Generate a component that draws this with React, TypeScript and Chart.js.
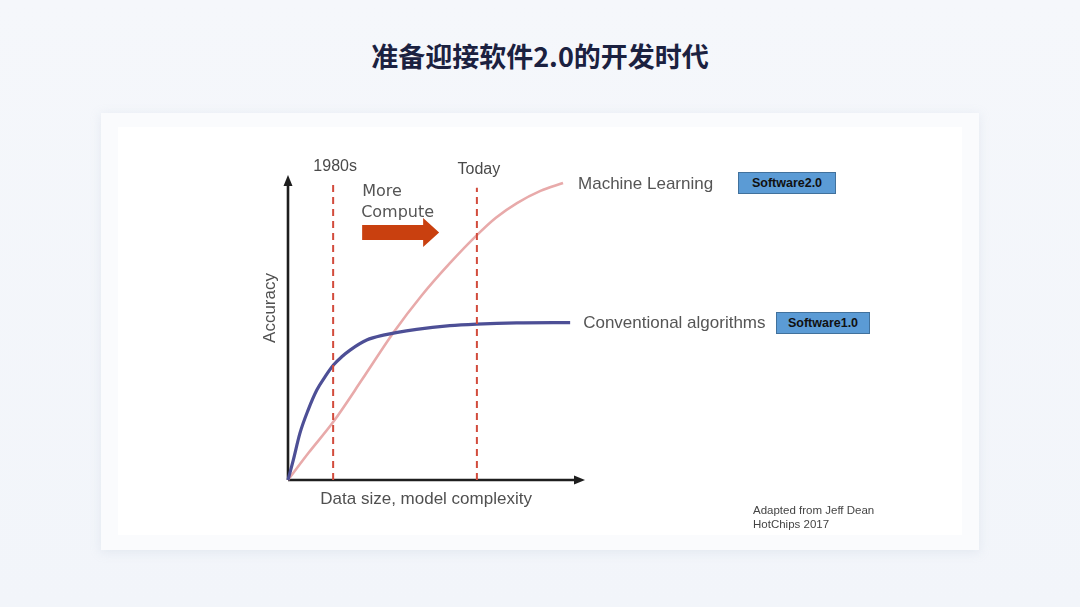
import React, { useEffect, useRef } from "react";
import { Chart, registerables } from "chart.js";

Chart.register(...registerables);

const pageTitle = "准备迎接软件2.0的开发时代";
const xAxisTitle = "Data size, model complexity";
const yAxisTitle = "Accuracy";
const seriesNames = ["Machine Learning", "Conventional algorithms"];
const badgeLabels = ["Software2.0", "Software1.0"];
const footnoteLines = ["Adapted from Jeff Dean", "HotChips 2017"];
const computeLines = ["More", "Compute"];

// Machine Learning curve (x: data size, y: accuracy, arbitrary 0-100 units)
const mlX = [0, 7, 15.2, 25, 35.4, 45, 54.5, 63.6, 70, 77.1, 85, 92.6];
const mlY = [0, 9, 19.0, 33, 48.2, 60.5, 71.1, 80.3, 86, 90.8, 94.8, 97.4];

// Conventional algorithms curve
const convX = [0, 1.8, 4.0, 6.8, 9.7, 12.5, 15.3, 18.1, 20.9, 26.5, 32.1, 43.3, 54.5, 63.5, 77.0, 95];
const convY = [0, 6.6, 15.3, 23.0, 29.5, 33.9, 37.7, 40.4, 42.6, 45.9, 47.5, 49.4, 50.6, 51.1, 51.5, 51.6];

// Era markers
const eraX = [15.2, 63.6];
const eraTop = [97.4, 95.8];
const eraLabels = ["1980s", "Today"];

const ARIAL = '"Liberation Sans", Arial, sans-serif';

const annotPlugin = {
  id: "annot",
  beforeDatasetsDraw(chart: any) {
    const { ctx, chartArea } = chart;
    const { left, right, top, bottom } = chartArea;
    ctx.save();
    ctx.strokeStyle = "#1e1e1e";
    ctx.fillStyle = "#1e1e1e";
    ctx.lineWidth = 2.6;
    ctx.beginPath();
    ctx.moveTo(left, bottom);
    ctx.lineTo(left, top + 8);
    ctx.moveTo(left, bottom);
    ctx.lineTo(right - 8, bottom);
    ctx.stroke();
    // arrowheads
    ctx.beginPath();
    ctx.moveTo(left, top);
    ctx.lineTo(left - 4.5, top + 11);
    ctx.lineTo(left + 4.5, top + 11);
    ctx.closePath();
    ctx.fill();
    ctx.beginPath();
    ctx.moveTo(right, bottom);
    ctx.lineTo(right - 11, bottom - 4.5);
    ctx.lineTo(right - 11, bottom + 4.5);
    ctx.closePath();
    ctx.fill();
    ctx.restore();
  },
  afterDraw(chart: any) {
    const { ctx, chartArea, scales } = chart;
    const xs = scales.x;
    const ys = scales.y;
    const { left, bottom } = chartArea;
    ctx.save();
    ctx.textBaseline = "middle";
    // era labels
    ctx.fillStyle = "#4a4a4a";
    ctx.font = `16px ${ARIAL}`;
    ctx.textAlign = "center";
    eraLabels.forEach((t, i) => {
      const px = xs.getPixelForValue(eraX[i]);
      const py = ys.getPixelForValue(eraTop[i]);
      ctx.fillText(t, px + 2, py - (i === 0 ? 16 : 18));
    });
    // axis titles
    ctx.fillStyle = "#505050";
    ctx.font = `17px ${ARIAL}`;
    ctx.fillText(xAxisTitle, xs.getPixelForValue(46.5), bottom + 19);
    ctx.save();
    ctx.translate(left - 18, ys.getPixelForValue(56.4));
    ctx.rotate(-Math.PI / 2);
    ctx.fillText(yAxisTitle, 0, 0);
    ctx.restore();
    // series labels
    ctx.textAlign = "left";
    ctx.font = `17px ${ARIAL}`;
    ctx.fillStyle = "#555555";
    const mlEndX = xs.getPixelForValue(mlX[mlX.length - 1]);
    const mlEndY = ys.getPixelForValue(mlY[mlY.length - 1]);
    ctx.fillText(seriesNames[0], mlEndX + 15, mlEndY + 1);
    const cvEndX = xs.getPixelForValue(convX[convX.length - 1]);
    const cvEndY = ys.getPixelForValue(convY[convY.length - 1]);
    ctx.fillText(seriesNames[1], cvEndX + 13, cvEndY + 1);
    // More Compute
    const cx = xs.getPixelForValue(eraX[0]) + 29;
    ctx.font = `16px "DejaVu Sans", Verdana, sans-serif`;
    ctx.fillStyle = "#555555";
    ctx.fillText(computeLines[0], cx, 192);
    ctx.fillText(computeLines[1], cx - 1, 213);
    // arrow
    ctx.fillStyle = "#c9400f";
    ctx.beginPath();
    ctx.moveTo(cx, 225);
    ctx.lineTo(cx + 61, 225);
    ctx.lineTo(cx + 61, 218);
    ctx.lineTo(cx + 77, 232.5);
    ctx.lineTo(cx + 61, 247);
    ctx.lineTo(cx + 61, 240);
    ctx.lineTo(cx, 240);
    ctx.closePath();
    ctx.fill();
    ctx.restore();
  },
};

export default function App() {
  const ref = useRef<HTMLCanvasElement>(null);
  useEffect(() => {
    const eraSets = eraX.map((x, i) => ({
      label: eraLabels[i],
      data: [
        { x, y: 0 },
        { x, y: eraTop[i] },
      ],
      borderColor: "#d24b3c",
      borderWidth: 2,
      borderDash: [7, 5],
      pointRadius: 0,
      order: 0,
      clip: false as any,
    }));
    const chart = new Chart(ref.current!, {
      type: "line",
      data: {
        datasets: [
          ...eraSets,
          {
            label: seriesNames[0],
            data: mlX.map((x, i) => ({ x, y: mlY[i] })),
            borderColor: "#e8aaaa",
            borderWidth: 2.6,
            pointRadius: 0,
            cubicInterpolationMode: "monotone",
            order: 2,
            clip: false as any,
          },
          {
            label: seriesNames[1],
            data: convX.map((x, i) => ({ x, y: convY[i] })),
            borderColor: "#4d4f96",
            borderWidth: 3.2,
            pointRadius: 0,
            cubicInterpolationMode: "monotone",
            order: 1,
            clip: false as any,
          },
        ],
      },
      options: {
        responsive: false,
        animation: false,
        layout: { padding: { left: 288, right: 495, top: 175, bottom: 127 } },
        scales: {
          x: { type: "linear", min: 0, max: 100, display: false },
          y: { type: "linear", min: 0, max: 100, display: false },
        },
        plugins: { legend: { display: false }, tooltip: { enabled: false } },
        events: [],
      },
      plugins: [annotPlugin],
    });
    return () => chart.destroy();
  }, []);

  const badge = (text: string, left: number, top: number, w: number) => (
    <div
      style={{
        position: "absolute",
        left,
        top,
        width: w,
        height: 22,
        background: "#5b9bd5",
        border: "1px solid #41719c",
        boxSizing: "border-box",
        color: "#111",
        font: `bold 12.5px ${ARIAL}`,
        display: "flex",
        alignItems: "center",
        justifyContent: "center",
      }}
    >
      {text}
    </div>
  );

  return (
    <div
      style={{
        position: "fixed",
        left: 0,
        top: 0,
        width: 1080,
        height: 607,
        overflow: "hidden",
        background: "linear-gradient(180deg, #f5f7fb 0%, #f2f5fa 100%)",
      }}
    >
      <div
        style={{
          position: "absolute",
          left: 0,
          top: 36,
          width: 1080,
          textAlign: "center",
          font: `bold 27px "Noto Sans CJK SC", sans-serif`,
          color: "#1b2140",
          lineHeight: "40px",
        }}
      >
        {pageTitle}
      </div>
      <div
        style={{
          position: "absolute",
          left: 101,
          top: 113,
          width: 878,
          height: 437,
          background: "#fafbfd",
          boxShadow: "0 2px 10px rgba(180,190,210,0.25)",
        }}
      />
      <div
        style={{
          position: "absolute",
          left: 118,
          top: 127,
          width: 844,
          height: 408,
          background: "#ffffff",
        }}
      />
      <canvas
        ref={ref}
        width={1080}
        height={607}
        style={{ position: "absolute", left: 0, top: 0, width: 1080, height: 607 }}
      />
      {badge(badgeLabels[0], 738, 172, 98)}
      {badge(badgeLabels[1], 776, 312, 94)}
      <div
        style={{
          position: "absolute",
          left: 753,
          top: 503,
          font: `11.5px ${ARIAL}`,
          color: "#444",
          lineHeight: "14px",
        }}
      >
        {footnoteLines.map((l) => (
          <div key={l}>{l}</div>
        ))}
      </div>
    </div>
  );
}
